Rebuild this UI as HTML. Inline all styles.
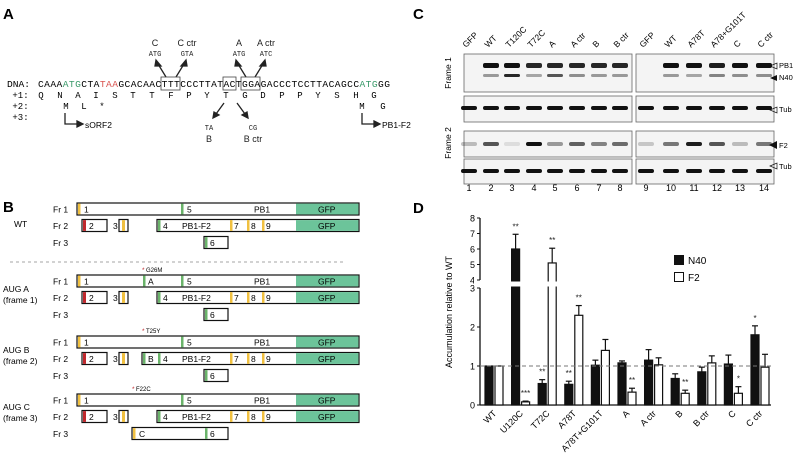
<!DOCTYPE html>
<html><head><meta charset="utf-8"><style>
body{margin:0;background:#fff;}
svg{display:block;font-family:"Liberation Sans",sans-serif;}
.m{font-family:"Liberation Mono",monospace;}
</style></head><body>
<svg width="800" height="468" viewBox="0 0 800 468">
<g>
<text x="3" y="19" font-size="15" font-weight="bold">A</text>
<g font-size="9" fill="#222" text-anchor="middle">
<text x="155" y="46">C</text><text x="187" y="46">C ctr</text>
<text x="239" y="46">A</text><text x="266" y="46">A ctr</text>
<text class="m" x="155" y="56" font-size="7">ATG</text><text class="m" x="187" y="56" font-size="7">GTA</text>
<text class="m" x="239" y="56" font-size="7">ATG</text><text class="m" x="266" y="56" font-size="7">ATC</text>
<text class="m" x="209" y="130" font-size="7">TA</text><text x="209" y="142">B</text>
<text class="m" x="253" y="130" font-size="7">CG</text><text x="253" y="142">B ctr</text>
</g>
<g stroke="#222" stroke-width="1.3" fill="#222">
<line x1="166" y1="77" x2="158" y2="64"/><polygon points="156,60 161,66 155,66"/>
<line x1="176" y1="77" x2="184" y2="64"/><polygon points="186,60 187,66 181,66"/>
<line x1="246" y1="77" x2="238" y2="64"/><polygon points="236,60 241,66 235,66"/>
<line x1="255" y1="77" x2="263" y2="64"/><polygon points="265,60 266,66 260,66"/>
<line x1="224" y1="103" x2="216" y2="114"/><polygon points="213,118 214,112 219,115"/>
<line x1="237" y1="103" x2="245" y2="114"/><polygon points="248,118 242,115 247,112"/>
</g>
<g fill="none" stroke="#444" stroke-width="0.8">
<rect x="161" y="77" width="19" height="13"/><rect x="223" y="77" width="13" height="13"/><rect x="241" y="77" width="19" height="13"/>
</g>
<text class="m" x="7" y="87" font-size="9.6">DNA:</text>
<text class="m" x="38" y="87" font-size="9.6" textLength="352" lengthAdjust="spacing">CAAA<tspan fill="#3a9a6a">ATG</tspan>CTA<tspan fill="#d9534f">TAA</tspan>GCACAACTTTCCCTTATACTGGAGACCCTCCTTACAGCC<tspan fill="#3a9a6a">ATG</tspan>GG</text>
<text class="m" x="7" y="98" font-size="9" xml:space="preserve"> +1:</text>
<text class="m" x="7" y="109" font-size="9" xml:space="preserve"> +2:</text>
<text class="m" x="7" y="120" font-size="9" xml:space="preserve"> +3:</text>
<g class="m" font-size="9" text-anchor="middle">
<text x="41" y="98">Q</text><text x="60" y="98">N</text><text x="78" y="98">A</text><text x="96" y="98">I</text><text x="115" y="98">S</text><text x="133" y="98">T</text><text x="152" y="98">T</text><text x="171" y="98">F</text><text x="189" y="98">P</text><text x="207" y="98">Y</text><text x="226" y="98">T</text><text x="245" y="98">G</text><text x="263" y="98">D</text><text x="282" y="98">P</text><text x="300" y="98">P</text><text x="318" y="98">Y</text><text x="337" y="98">S</text><text x="356" y="98">H</text><text x="374" y="98">G</text>
<text x="66" y="109">M</text><text x="84" y="109">L</text><text x="102" y="109">*</text><text x="362" y="109">M</text><text x="383" y="109">G</text>
</g>
<g stroke="#222" stroke-width="1.3" fill="#222">
<polyline points="65,113 65,124 78,124" fill="none"/><polygon points="77,121 83,124 77,127"/>
<polyline points="362,113 362,124 375,124" fill="none"/><polygon points="374,121 380,124 374,127"/>
</g>
<text x="85" y="128" font-size="8.5">sORF2</text>
<text x="382" y="128" font-size="8.5">PB1-F2</text>
</g>

<g font-size="8.5">
<text x="3" y="212" font-size="15" font-weight="bold">B</text>
<text x="14" y="227">WT</text>
<text x="3" y="292">AUG A</text><text x="3" y="303">(frame 1)</text>
<text x="3" y="353">AUG B</text><text x="3" y="364">(frame 2)</text>
<text x="3" y="410">AUG C</text><text x="3" y="421">(frame 3)</text>
<line x1="10" y1="262" x2="346" y2="262" stroke="#888" stroke-dasharray="3,3" stroke-width="0.8"/>
<g id="constructs"></g>
</g>

<g>
<text x="413" y="19" font-size="15" font-weight="bold">C</text>
<text transform="translate(451,73) rotate(-90)" font-size="8.5" text-anchor="middle">Frame 1</text>
<text transform="translate(451,143) rotate(-90)" font-size="8.5" text-anchor="middle">Frame 2</text>
<g id="blots"></g>
<text x="779" y="68" font-size="7.5">PB1</text>
<text x="779" y="80" font-size="7.5">N40</text>
<text x="779" y="112" font-size="7.5">Tub</text>
<text x="779" y="148" font-size="7.5">F2</text>
<text x="779" y="169" font-size="7.5">Tub</text>
</g>

<g>
<text x="413" y="213" font-size="15" font-weight="bold">D</text>
<text transform="translate(452,312) rotate(-90)" font-size="9" text-anchor="middle">Accumulation  relative to WT</text>
<g id="chart"></g>
<rect x="674" y="255" width="10" height="10" fill="#111"/>
<text x="688" y="264" font-size="10">N40</text>
<rect x="674.5" y="272.5" width="9" height="9" fill="#fff" stroke="#111"/>
<text x="688" y="281" font-size="10">F2</text>
</g>
</svg>
<script>
const NS="http://www.w3.org/2000/svg";
function mk(p,t,a,txt){const e=document.createElementNS(NS,t);for(const k in a)e.setAttribute(k,a[k]);if(txt!==undefined)e.textContent=txt;p.appendChild(e);return e;}

const cg=document.getElementById('constructs');
const blocks=[{y:203,v:'wt'},{y:275,v:'A'},{y:336,v:'B'},{y:394,v:'C'}];
const Y='#f0c040',G='#6ab36a',R='#c0282d';
blocks.forEach(b=>{
 const y1=b.y,y2=b.y+16.5,y3=b.y+33.5,h=12;
 [['Fr 1',y1],['Fr 2',y2],['Fr 3',y3]].forEach(r=>mk(cg,'text',{x:53,y:r[1]+9.5,'font-size':8.5},r[0]));
 mk(cg,'rect',{x:77,y:y1,width:282,height:h,fill:'#fff',stroke:'#111','stroke-width':1.2});
 mk(cg,'rect',{x:296,y:y1+0.6,width:62.4,height:h-1.2,fill:'#6cc49a'});
 mk(cg,'rect',{x:78,y:y1+0.6,width:2.5,height:h-1.2,fill:Y});
 mk(cg,'rect',{x:181,y:y1+0.6,width:2.5,height:h-1.2,fill:G});
 mk(cg,'text',{x:84,y:y1+9.5,'font-size':8.5},'1');
 mk(cg,'text',{x:187,y:y1+9.5,'font-size':8.5},'5');
 mk(cg,'text',{x:254,y:y1+9.5,'font-size':8.5},'PB1');
 mk(cg,'text',{x:318,y:y1+9.5,'font-size':8.5},'GFP');
 if(b.v==='A'){mk(cg,'rect',{x:143,y:y1+0.6,width:2.5,height:h-1.2,fill:G});mk(cg,'text',{x:148,y:y1+9.5,'font-size':8.5},'A');}
 const mut={A:['G26M',142],B:['T25Y',142],C:['F22C',132]}[b.v];
 if(mut){mk(cg,'text',{x:mut[1],y:y1-3,'font-size':6.5,fill:R},'*');mk(cg,'text',{x:mut[1]+4,y:y1-3,'font-size':6},mut[0]);}
 mk(cg,'rect',{x:82,y:y2,width:25,height:h,fill:'#fff',stroke:'#111','stroke-width':1.2});
 mk(cg,'rect',{x:83,y:y2+0.6,width:3,height:h-1.2,fill:R});
 mk(cg,'text',{x:89,y:y2+9.5,'font-size':8.5},'2');
 mk(cg,'rect',{x:119,y:y2,width:9,height:h,fill:'#fff',stroke:'#111','stroke-width':1.2});
 mk(cg,'rect',{x:122,y:y2+0.6,width:3,height:h-1.2,fill:Y});
 mk(cg,'text',{x:113,y:y2+9.5,'font-size':8.5},'3');
 const sx=b.v==='B'?142:157;
 mk(cg,'rect',{x:sx,y:y2,width:359-sx,height:h,fill:'#fff',stroke:'#111','stroke-width':1.2});
 mk(cg,'rect',{x:296,y:y2+0.6,width:62.4,height:h-1.2,fill:'#6cc49a'});
 if(b.v==='B'){mk(cg,'rect',{x:143,y:y2+0.6,width:2.5,height:h-1.2,fill:G});mk(cg,'text',{x:148,y:y2+9.5,'font-size':8.5},'B');}
 mk(cg,'rect',{x:158,y:y2+0.6,width:2.5,height:h-1.2,fill:G});
 mk(cg,'text',{x:163,y:y2+9.5,'font-size':8.5},'4');
 mk(cg,'text',{x:182,y:y2+9.5,'font-size':8.5},'PB1-F2');
 [[230,'7'],[247,'8'],[262,'9']].forEach(m=>{mk(cg,'rect',{x:m[0],y:y2+0.6,width:2.5,height:h-1.2,fill:Y});mk(cg,'text',{x:m[0]+4,y:y2+9.5,'font-size':8.5},m[1]);});
 mk(cg,'text',{x:318,y:y2+9.5,'font-size':8.5},'GFP');
 if(b.v==='C'){mk(cg,'rect',{x:132,y:y3,width:96,height:h,fill:'#fff',stroke:'#111','stroke-width':1.2});mk(cg,'rect',{x:133,y:y3+0.6,width:2.5,height:h-1.2,fill:Y});mk(cg,'text',{x:139,y:y3+9.5,'font-size':8.5},'C');}
 else mk(cg,'rect',{x:204,y:y3,width:24,height:h,fill:'#fff',stroke:'#111','stroke-width':1.2});
 mk(cg,'rect',{x:205,y:y3+0.6,width:2.5,height:h-1.2,fill:G});
 mk(cg,'text',{x:210,y:y3+9.5,'font-size':8.5},'6');
});

const bl=document.getElementById('blots');
const laneNames=['GFP','WT','T120C','T72C','A','A ctr','B','B ctr','GFP','WT','A78T','A78+G101T','C','C ctr'];
const laneX=[469,491,512,534,555,577,599,620,646,671,694,717,740,764];
const pb1=[0,1,1,.9,.9,.9,.9,.9,0,1,1,.95,1.1,1.1];
const n40=[0,.4,.9,.35,.7,.45,.4,.4,0,.4,.35,.5,.45,.45];
const f2b=[.25,.7,.1,1,.4,.65,.5,.6,.2,.55,.95,.7,.25,.55];
[[464,632],[636,774]].forEach(p=>{
 [[54,38],[96,26],[131,26],[159,25]].forEach(r=>mk(bl,'rect',{x:p[0],y:r[0],width:p[1]-p[0],height:r[1],fill:'#f4f4f4',stroke:'#666','stroke-width':0.8}));
});
laneX.forEach((x,i)=>{
 const t=mk(bl,'text',{transform:`translate(${x-3},48) rotate(-45)`,'font-size':8.5},laneNames[i]);
 
 mk(bl,'text',{x:x,y:191,'font-size':9,'text-anchor':'middle'},String(i+1));
 if(pb1[i])mk(bl,'rect',{x:x-8,y:63,width:16,height:5,rx:2,fill:'#111',opacity:Math.min(1,pb1[i])});
 if(n40[i])mk(bl,'rect',{x:x-8,y:74,width:16,height:3,rx:1.5,fill:'#111',opacity:n40[i]});
 mk(bl,'rect',{x:x-8,y:106,width:16,height:4,rx:2,fill:'#111'});
 mk(bl,'rect',{x:x-8,y:142,width:16,height:4,rx:2,fill:'#111',opacity:f2b[i]});
 mk(bl,'rect',{x:x-8,y:169,width:16,height:4,rx:2,fill:'#111'});
});
mk(bl,'polygon',{points:'770,78 777,75 777,81',fill:'#111'});
mk(bl,'polygon',{points:'770,66 777,63 777,69',fill:'none',stroke:'#111','stroke-width':0.7});
mk(bl,'polygon',{points:'770,110 777,107 777,113',fill:'none',stroke:'#111','stroke-width':0.7});
mk(bl,'polygon',{points:'769,145 777,141 777,149',fill:'#111'});
mk(bl,'polygon',{points:'770,166 777,163 777,169',fill:'none',stroke:'#111','stroke-width':0.7});
</script>
<script>
const categories=['WT','U120C','T72C','A78T','A78T+G101T','A','A ctr','B','B ctr','C','C ctr'];
const n40Vals=[1,6.0,0.55,0.53,1.02,1.08,1.15,0.68,0.85,1.05,1.8];
const n40Err=[0,0.95,0.1,0.08,0.13,0.05,0.27,0.12,0.12,0.23,0.23];
const f2Vals=[1,0.08,5.1,2.3,1.4,0.33,1.03,0.3,1.08,0.3,0.97];
const f2Err=[0,0.02,0.95,0.25,0.28,0.1,0.18,0.08,0.18,0.17,0.33];
const n40Sig=['','**','**','**','','','','','','','*'];
const f2Sig=['','***','**','**','','**','','**','','*',''];
const lowTicks=[0,1,2,3];
const highTicks=[4,5,6,7,8];

const chart=document.getElementById('chart');
const X0=480,XEND=771,BASE=405;
function yScale(v){return v<=3.2?BASE-v*39:280-(v-4)*15.5;}
function xN(i){return 485+i*26.6;}
const BW=8;
let e=mk(chart,'line',{x1:X0,y1:BASE,x2:X0,y2:288,stroke:'#111','stroke-width':1.3});

e=mk(chart,'line',{x1:X0,y1:280,x2:X0,y2:218,stroke:'#111','stroke-width':1.3});

e=mk(chart,'line',{x1:X0,y1:BASE,x2:XEND,y2:BASE,stroke:'#111','stroke-width':1.3});

lowTicks.concat(highTicks).forEach(t=>{
 const y=yScale(t);
 mk(chart,'line',{x1:X0-3,y1:y,x2:X0,y2:y,stroke:'#111'});
 const tl=mk(chart,'text',{x:X0-5,y:y+3.5,'font-size':9,'text-anchor':'end'},String(t));
 
});
function drawBar(i,v,err,sig,x,fill,name){
 const y=yScale(v);
 const r=mk(chart,'rect',{x:x,y:y,width:BW,height:BASE-y,fill:fill,stroke:'#111','stroke-width':1.2});
 
 if(err>0){const ye=yScale(v+err);
  mk(chart,'line',{x1:x+BW/2,y1:y,x2:x+BW/2,y2:ye,stroke:'#111','stroke-width':1.2});
  mk(chart,'line',{x1:x+BW/2-3,y1:ye,x2:x+BW/2+3,y2:ye,stroke:'#111','stroke-width':1.2});}
 if(sig){
  const s=mk(chart,'text',{x:x+BW/2,y:yScale(v+err)-5,'font-size':8,'text-anchor':'middle',fill:'#222'},sig);
  }
}
categories.forEach((c,i)=>{
 drawBar(i,n40Vals[i],n40Err[i],n40Sig[i],xN(i),'#111','bar-n40');
 drawBar(i,f2Vals[i],f2Err[i],f2Sig[i],xN(i)+10,'#fff','bar-f2');
 const t=mk(chart,'text',{transform:`translate(${xN(i)+12},414) rotate(-45)`,'font-size':9,'text-anchor':'end'},c);
 
});
mk(chart,'rect',{x:X0-6,y:281.5,width:XEND-X0+6,height:5,fill:'#fff'});
e=mk(chart,'line',{x1:X0,y1:yScale(1),x2:XEND,y2:yScale(1),stroke:'#777','stroke-dasharray':'4,3','stroke-width':0.9});

</script>
</body></html>
